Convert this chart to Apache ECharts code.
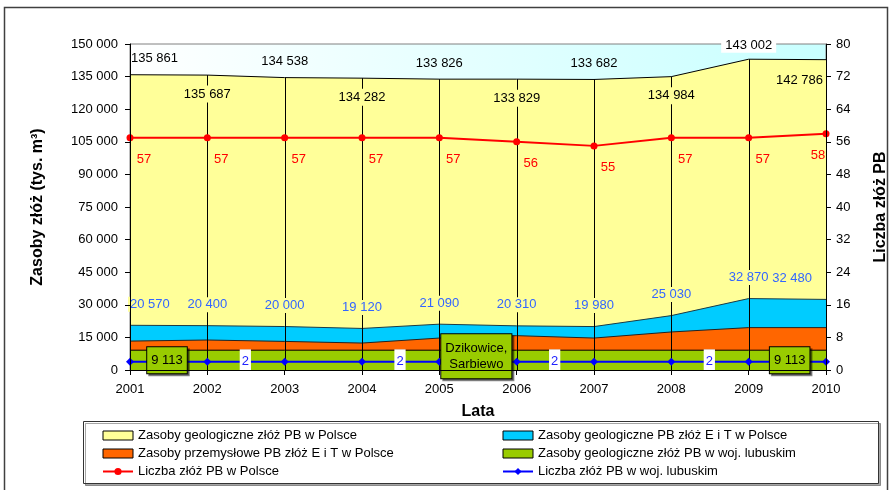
<!DOCTYPE html>
<html>
<head>
<meta charset="utf-8">
<script src="https://cdn.jsdelivr.net/npm/echarts@6/dist/echarts.min.js"></script>
<style>
html, body { margin: 0; padding: 0; background: #fff; }
#main { width: 892px; height: 490px; }
</style>
</head>
<body>
<div id="main"></div>
<script>
// dane z wykresu
var lata = ['2001', '2002', '2003', '2004', '2005', '2006', '2007', '2008', '2009', '2010'];
var zasobyPolska = [135861, 135687, 134538, 134282, 133826, 133829, 133682, 134984, 143002, 142786];
var zasobyET = [20570, 20400, 20000, 19120, 21090, 20310, 19980, 25030, 32870, 32480];
var przemysloweET = [13300, 13800, 13150, 12400, 14700, 15800, 14700, 17500, 19500, 19500];
var zasobyLubuskie = [9113, 9113, 9113, 9113, 9113, 9113, 9113, 9113, 9113, 9113];
var liczbaPolska = [57, 57, 57, 57, 57, 56, 55, 57, 57, 58];
var liczbaLubuskie = [2, 2, 2, 2, 2, 2, 2, 2, 2, 2];
var opisyLubuskie = { 0: '9 113', 4: 'Dzikowice,\nSarbiewo', 8: '9 113' };

var FONT = 'Liberation Sans, Arial, sans-serif';

function fmt(v) {
    return String(v).replace(/\B(?=(\d{3})+(?!\d))/g, ' ');
}

// etykiety dla zasobów w Polsce (na przemian nad i pod linią)
function etykietaZolta(v, i) {
    var lab = { show: true, color: '#000', fontSize: 13, fontFamily: FONT, formatter: fmt(v) };
    if (i % 2 === 0) {
        lab.position = 'top';
        lab.distance = 9;
    } else {
        lab.position = 'bottom';
        lab.distance = 10;
        lab.backgroundColor = '#FFFF99';
        lab.padding = [2, 2];
    }
    if (i === 0) { lab.align = 'left'; lab.offset = [1, 0]; }
    if (i === 8) { lab.backgroundColor = '#fff'; lab.padding = [1, 4]; lab.distance = 6; }
    if (i === 9) { lab.align = 'right'; lab.offset = [-1, 0]; lab.distance = 12; }
    return { value: v, symbol: 'circle', symbolSize: 1, itemStyle: { color: 'transparent' }, label: lab };
}

function etykietaNiebieska(v, i) {
    var lab = {
        show: true, color: '#3366FF', fontSize: 13, fontFamily: FONT, formatter: fmt(v),
        position: 'top', distance: 13, backgroundColor: '#FFFF99', padding: [1, 2]
    };
    if (i === 0) { lab.align = 'left'; lab.offset = [-2, 0]; }
    if (i === 9) { lab.align = 'right'; lab.offset = [-12, 0]; }
    return { value: v, symbol: 'circle', symbolSize: 1, itemStyle: { color: 'transparent' }, label: lab };
}

function etykietaZielona(v, i) {
    if (opisyLubuskie[i] === undefined) {
        return { value: v, symbol: 'none' };
    }
    var off = i === 4 ? [37, 6] : (i === 8 ? [41, 10] : [37, 10]);
    return {
        value: v, symbol: 'circle', symbolSize: 1, itemStyle: { color: 'transparent' },
        label: {
            show: true, position: 'inside', offset: off, formatter: opisyLubuskie[i],
            color: '#000', fontSize: 13, fontFamily: FONT, lineHeight: 16,
            backgroundColor: '#99CC00', borderColor: '#000', borderWidth: 1,
            padding: i === 4 ? [6, 4] : [5, 4],
            shadowColor: 'rgba(0,0,0,0.45)', shadowOffsetX: 2, shadowOffsetY: 2
        }
    };
}

var chart = echarts.init(document.getElementById('main'));

var option = {
    animation: false,
    textStyle: { fontFamily: FONT },
    graphic: [
        { type: 'rect', z: -1, shape: { x: 4.5, y: 7.5, width: 883, height: 500 }, style: { fill: '#fff', stroke: '#404040', lineWidth: 1.5 } },
        { type: 'rect', z: 0, shape: { x: 83.5, y: 421.5, width: 795, height: 62 }, style: { fill: '#fff', stroke: '#333', lineWidth: 1, shadowColor: 'rgba(0,0,0,0.35)', shadowOffsetX: 2, shadowOffsetY: 2 } }
    ],
    grid: {
        left: 130, right: 66, top: 44, bottom: 120,
        outerBoundsMode: 'none',
        containLabel: false,
        show: true,
        borderColor: '#808080', borderWidth: 1,
        backgroundColor: new echarts.graphic.LinearGradient(0, 0, 1, 0, [
            { offset: 0, color: '#ffffff' },
            { offset: 1, color: '#c8ffff' }
        ])
    },
    legend: [
        {
            left: 97, top: 424, orient: 'vertical', itemGap: 5, itemWidth: 30, itemHeight: 9,
            textStyle: { fontSize: 13, color: '#000', fontFamily: FONT },
            data: [
                { name: 'Zasoby geologiczne złóż PB w Polsce', icon: 'rect', itemStyle: { borderColor: '#000', borderWidth: 1 } },
                { name: 'Zasoby przemysłowe PB złóż E i T w Polsce', icon: 'rect', itemStyle: { borderColor: '#000', borderWidth: 1 } },
                { name: 'Liczba złóż PB w Polsce' }
            ]
        },
        {
            left: 497, top: 424, orient: 'vertical', itemGap: 5, itemWidth: 30, itemHeight: 9,
            textStyle: { fontSize: 13, color: '#000', fontFamily: FONT },
            data: [
                { name: 'Zasoby geologiczne PB złóż E i T w Polsce', icon: 'rect', itemStyle: { borderColor: '#000', borderWidth: 1 } },
                { name: 'Zasoby geologiczne złóż PB w woj. lubuskim', icon: 'rect', itemStyle: { borderColor: '#000', borderWidth: 1 } },
                { name: 'Liczba złóż PB w woj. lubuskim' }
            ]
        }
    ],
    xAxis: {
        type: 'category',
        data: lata,
        boundaryGap: false,
        z: 5,
        name: 'Lata',
        nameLocation: 'middle',
        nameGap: 34,
        nameTextStyle: { fontSize: 16, fontWeight: 'bold', color: '#000', fontFamily: FONT },
        axisLine: { lineStyle: { color: '#000', width: 1 } },
        axisTick: { show: true, length: 5, lineStyle: { color: '#000' } },
        axisLabel: { color: '#000', fontSize: 13, margin: 13, fontFamily: FONT },
        splitLine: { show: false }
    },
    yAxis: [
        {
            type: 'value',
            min: 0, max: 150000, interval: 15000,
            z: 5,
            name: 'Zasoby złóż (tys. m³)',
            nameLocation: 'middle',
            nameRotate: 90,
            nameGap: 84,
            nameTextStyle: { fontSize: 16, fontWeight: 'bold', color: '#000', fontFamily: FONT },
            axisLine: { show: true, lineStyle: { color: '#000' } },
            axisTick: { show: true, length: 5, lineStyle: { color: '#000' } },
            axisLabel: { color: '#000', fontSize: 13, margin: 12, fontFamily: FONT, formatter: fmt },
            splitLine: { show: false }
        },
        {
            type: 'value',
            position: 'right',
            min: 0, max: 80, interval: 8,
            z: 5,
            name: 'Liczba złóż PB',
            nameLocation: 'middle',
            nameRotate: 90,
            nameGap: 47,
            nameTextStyle: { fontSize: 16, fontWeight: 'bold', color: '#000', fontFamily: FONT },
            axisLine: { show: true, lineStyle: { color: '#000' } },
            axisTick: { show: true, length: 5, lineStyle: { color: '#000' } },
            axisLabel: { color: '#000', fontSize: 13, margin: 10, fontFamily: FONT },
            splitLine: { show: false }
        }
    ],
    series: [
        {
            name: 'Zasoby geologiczne złóż PB w Polsce',
            type: 'line', z: 1, symbol: 'none',
            data: zasobyPolska,
            itemStyle: { color: '#FFFF99' },
            lineStyle: { color: '#000', width: 1 },
            areaStyle: { color: '#FFFF99', opacity: 1 }
        },
        {
            name: 'Zasoby geologiczne PB złóż E i T w Polsce',
            type: 'line', z: 1, symbol: 'none',
            data: zasobyET,
            itemStyle: { color: '#00CCFF' },
            lineStyle: { color: '#1b3b46', width: 1 },
            areaStyle: { color: '#00CCFF', opacity: 1 }
        },
        {
            name: 'Zasoby przemysłowe PB złóż E i T w Polsce',
            type: 'line', z: 1, symbol: 'none',
            data: przemysloweET,
            itemStyle: { color: '#FF6600' },
            lineStyle: { color: '#222', width: 1 },
            areaStyle: { color: '#FF6600', opacity: 1 }
        },
        {
            name: 'Zasoby geologiczne złóż PB w woj. lubuskim',
            type: 'line', z: 1, symbol: 'none',
            data: zasobyLubuskie,
            itemStyle: { color: '#99CC00' },
            lineStyle: { color: '#000', width: 1 },
            areaStyle: { color: '#99CC00', opacity: 1 }
        },
        {
            // linie pionowe od osi do zasobów w Polsce
            name: 'linie',
            type: 'custom', z: 2, silent: true,
            data: zasobyPolska.map(function (v, i) { return [i, v]; }),
            encode: { x: 0, y: 1 },
            renderItem: function (params, api) {
                var p0 = api.coord([api.value(0), 0]);
                var p1 = api.coord([api.value(0), api.value(1)]);
                var x = Math.round(p0[0]) + 0.5;
                return {
                    type: 'line',
                    shape: { x1: x, y1: p0[1], x2: x, y2: p1[1] },
                    style: { stroke: '#000', lineWidth: 1 }
                };
            }
        },
        {
            name: 'Liczba złóż PB w Polsce',
            type: 'line', z: 3, yAxisIndex: 1,
            symbol: 'circle', symbolSize: 7,
            data: liczbaPolska.map(function (v, i) {
                return {
                    value: v,
                    label: { offset: i === 9 ? [-8, 0] : [14, 0] }
                };
            }),
            itemStyle: { color: '#FF0000' },
            lineStyle: { color: '#FF0000', width: 2 },
            label: { show: true, position: 'bottom', distance: 12, color: '#FF0000', fontSize: 13, fontFamily: FONT }
        },
        {
            name: 'Liczba złóż PB w woj. lubuskim',
            type: 'line', z: 3, yAxisIndex: 1,
            symbol: 'diamond', symbolSize: 8,
            data: liczbaLubuskie.map(function (v, i) {
                if (i % 2 === 1 && i < 9) {
                    return {
                        value: v,
                        label: {
                            show: true, position: 'inside', offset: [38, 0],
                            color: '#2222FF', fontSize: 13, fontFamily: FONT,
                            backgroundColor: '#fff', padding: [6, 2]
                        }
                    };
                }
                return { value: v };
            }),
            itemStyle: { color: '#0000FF' },
            lineStyle: { color: '#0000FF', width: 2 }
        },
        {
            name: 'etykiety PB',
            type: 'line', z: 4, silent: true,
            data: zasobyPolska.map(etykietaZolta),
            lineStyle: { opacity: 0 }
        },
        {
            name: 'etykiety ET',
            type: 'line', z: 4, silent: true,
            data: zasobyET.map(etykietaNiebieska),
            lineStyle: { opacity: 0 }
        },
        {
            name: 'etykiety lubuskie',
            type: 'line', z: 4, silent: true,
            data: zasobyLubuskie.map(etykietaZielona),
            lineStyle: { opacity: 0 }
        }
    ]
};

chart.setOption(option);
</script>
</body>
</html>
